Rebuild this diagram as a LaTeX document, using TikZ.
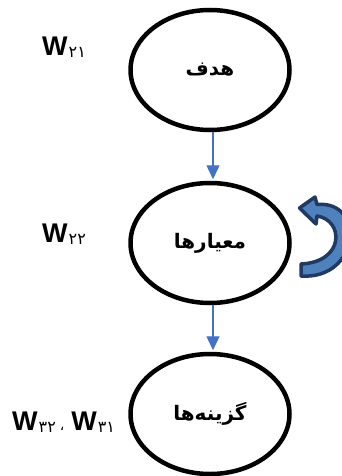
\documentclass[tikz,border=0pt]{standalone}
\usepackage{fontspec}
\setmainfont{Liberation Sans}
\newfontfamily\arabicfont[Script=Arabic,BoldFont={DejaVu Sans Bold}]{DejaVu Sans}
\newfontfamily\digitfont{DejaVu Sans}
\TeXXeTstate=1
\usetikzlibrary{arrows.meta,shapes.geometric}
\definecolor{flowblue}{RGB}{68,114,196}
\definecolor{bandblue}{RGB}{79,129,189}
\definecolor{navyline}{RGB}{33,58,100}
\newcommand{\wsub}[1]{{\fontsize{27}{27}\selectfont\bfseries W}\hspace{1pt}\raisebox{-2.5pt}{\digitfont\fontsize{16}{16}\selectfont #1}}
\begin{document}
\begin{tikzpicture}[x=1pt,y=-1pt,
  ellipsebox/.style={draw=black, line width=4.5pt, ellipse, minimum width=159pt, minimum height=120pt, inner sep=0pt,
    font=\arabicfont\bfseries\fontsize{20}{20}\selectfont},
  flowarrow/.style={draw=flowblue, line width=1.4pt, -{Triangle[width=13pt,length=14pt]}, shorten >=1.5pt},
  wlabel/.style={inner sep=0pt, anchor=west}]
\useasboundingbox (0,0) rectangle (342,476);
\fill[white] (0,0) rectangle (342,476);
\node[ellipsebox] (e1) at (210,70) {\beginR هدف\endR};
\node[ellipsebox] (e2) at (210,243) {\beginR معیارها\endR};
\node[ellipsebox] (e3) at (210,414) {\beginR گزینه‌ها\endR};
\draw[flowarrow] ([xshift=3pt]e1.south) -- ([xshift=3pt]e2.north);
\draw[flowarrow] ([xshift=3pt]e2.south) -- ([xshift=3pt]e3.north);
% curved block arrow
\draw[navyline, line width=3.5pt, fill=bandblue, line join=round]
  (301,276) .. controls (360,280) and (366,200) .. (317,204.5)
  -- (315,197) -- (299.5,208) -- (316,224) -- (317,216)
  .. controls (344,220) and (345,262) .. (301,264) -- cycle;
\node[wlabel] (w21) at (42,47) {\wsub{۲۱}};
\node[wlabel] (w22) at (42,234) {\wsub{۲۲}};
\node[wlabel] (w3) at (12,422) {\wsub{۳۲}\hspace{4pt}{\digitfont\fontsize{14}{14}\selectfont ،}\hspace{7pt}\wsub{۳۱}};
\end{tikzpicture}
\end{document}
